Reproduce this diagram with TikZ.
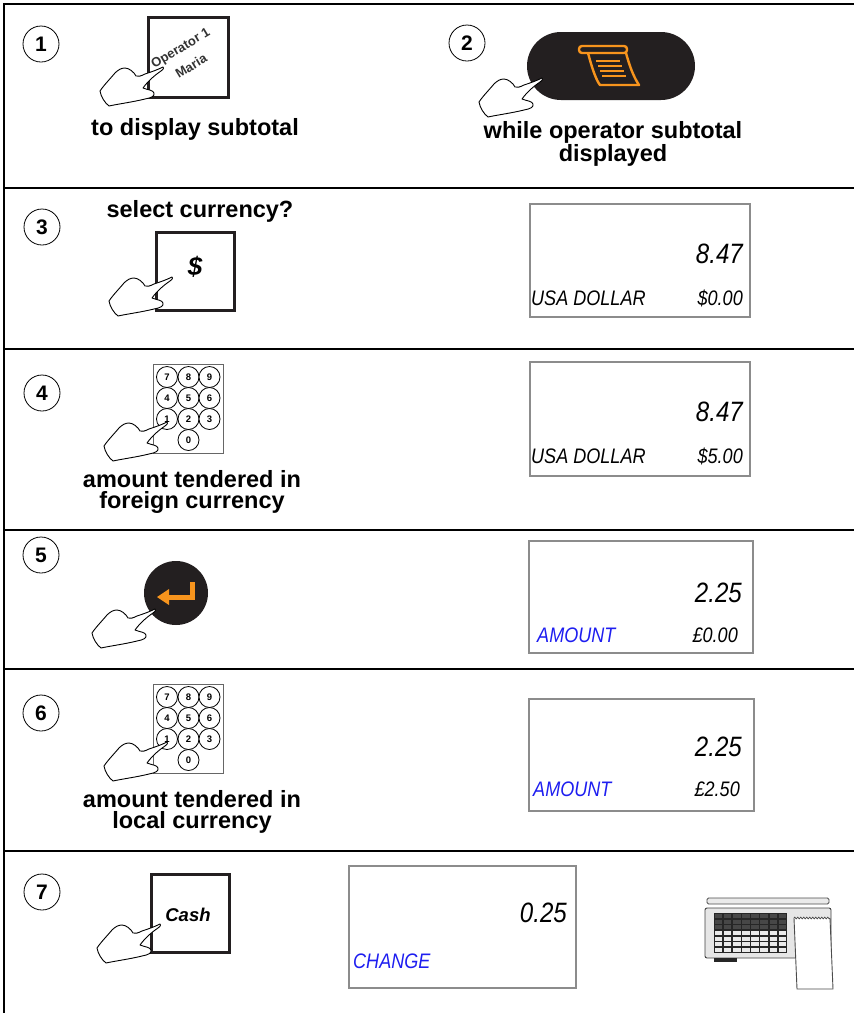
\documentclass[tikz,border=0pt]{standalone}
\usepackage{fontspec}
\setmainfont{Liberation Sans}
\newfontfamily\lcdfont[FakeStretch=0.86]{Liberation Sans}
\usetikzlibrary{decorations.pathmorphing}

\definecolor{keyblack}{HTML}{231F20}
\definecolor{keyorange}{HTML}{F7941D}
\definecolor{lcdblue}{HTML}{1E1EF0}
\definecolor{lcdframe}{HTML}{8C8C8C}
\definecolor{scaledark}{HTML}{262626}
\definecolor{scalekey}{HTML}{474747}
\definecolor{scalelight}{HTML}{EAEAEA}
\definecolor{scalebody}{HTML}{E6E6E6}

\tikzset{
  rowline/.style={line width=2pt, black},
  stepnum/.style={circle, draw, line width=0.8pt, minimum size=36pt, inner sep=0pt,
    font=\bfseries\fontsize{21}{21}\selectfont},
  steptext/.style={align=center, inner sep=0pt,
    font=\bfseries\fontsize{23.5}{22}\selectfont},
  keysq/.style={draw=keyblack, line width=3pt, fill=white, minimum size=#1, inner sep=0pt},
  keysq/.default=80pt,
  lcdbox/.style={draw=lcdframe, line width=1.5pt, anchor=north west, inner sep=0pt},
  lcdval/.style={inner sep=0pt, anchor=base east, font=\lcdfont\itshape\fontsize{28}{28}\selectfont},
  lcdtxt/.style={inner sep=0pt, font=\lcdfont\itshape\fontsize{21}{21}\selectfont},
  keypadbox/.style={draw=black!60, line width=0.8pt, minimum width=70pt, minimum height=89pt, inner sep=0pt},
  padkey/.style={circle, draw, fill=white, line width=0.8pt, minimum size=21pt, inner sep=0pt,
    font=\bfseries\fontsize{9.5}{9.5}\selectfont},
  % pointing hand, fingertip at the pic origin
  hand/.pic={
    \draw[fill=white, line width=0.9pt, line join=round]
      (0,0) .. controls (-6,3) and (-12,5) .. (-18,7)
      .. controls (-22,9) and (-25,10) .. (-27,9)
      .. controls (-29,5) and (-34,1) .. (-38,1)
      .. controls (-42,1) and (-45,3) .. (-48,6)
      .. controls (-53,12) and (-59,18) .. (-63,24)
      .. controls (-62,30) and (-58,36) .. (-54,39)
      .. controls (-45,37) and (-30,35) .. (-18,32)
      .. controls (-12,31) and (-8,29) .. (-9,26)
      .. controls (-10,23) and (-15,23) .. (-20,21)
      .. controls (-15,14) and (-8,8) .. (-2,4)
      .. controls (1,2) and (1,0) .. (0,0) -- cycle;
  },
  % numeric keypad block
  keypad/.pic={
    \node[keypadbox, anchor=north west] (-frame) at (0,0) {};
    \foreach \d/\kx/\ky in {7/14/13, 8/35.5/13, 9/56.5/13, 4/14/34, 5/35.5/34, 6/56.5/34,
                            1/14/55, 2/35.5/55, 3/56.5/55, 0/35.5/76}
      \node[padkey] (-k\d) at (\kx,\ky) {\d};
  }
}

\begin{document}
\begin{tikzpicture}[x=1pt, y=-1pt]
\useasboundingbox (0,0) rectangle (854,1013);

% frame and row separators
\draw[rowline] (4,1013) -- (4,4) -- (854,4);
\foreach \ry in {188,349,530,669,851}
  \draw[rowline] (4,\ry) -- (854,\ry);

% ---------- row 1 ----------
\node[stepnum] (n1) at (41,44) {1};
\node[keysq] (opkey) at (188,57.5) {};
\node[rotate=31, inner sep=0pt, text=black!80,
      font=\bfseries\fontsize{13}{13}\selectfont] (optexta) at (181,49) {Operator 1};
\node[rotate=31, inner sep=0pt, text=black!80,
      font=\bfseries\fontsize{13}{13}\selectfont] (optextb) at (191,66) {Maria};
\pic at (163,67) {hand};
\node[steptext, anchor=base] (t1) at (195,135) {to display subtotal};

\node[stepnum] (n2) at (467,43) {2};
\node[fill=keyblack, rounded corners=34pt, minimum width=168pt, minimum height=68pt, inner sep=0pt]
  (subkey) at (611,66) {};
\draw[keyorange, line width=2.4pt, rounded corners=3pt] (579,46) rectangle (627,53);
\draw[keyorange, line width=2.4pt, line join=round]
  (588,53) .. controls (592,68) and (596,80) .. (600,85) -- (639,85)
  .. controls (633,76) and (629,64) .. (626,53);
\foreach \ly/\lx in {61/596,66/598,71/600,76/602}
  \draw[keyorange, line width=2.2pt] (\lx,\ly) -- ++(24,0);
\pic at (542,78) {hand};
\node[steptext, anchor=base] (t2a) at (613,138) {while operator subtotal};
\node[steptext, anchor=base] (t2b) at (613,161) {displayed};

% ---------- row 2 ----------
\node[stepnum] (n3) at (42,227) {3};
\node[steptext, anchor=base] (t3) at (200,217) {select currency?};
\node[keysq=78pt] (curkey) at (195.5,271.5) {};
\node[inner sep=0pt, font=\bfseries\itshape\fontsize{26}{26}\selectfont] (curtext) at (195,267) {\$};
\pic at (172,277) {hand};
\node[lcdbox, minimum width=220pt, minimum height=113pt] (d1) at (529,203) {};
\node[lcdval] (d1v) at (743,263) {8.47};
\node[lcdtxt, anchor=base west] (d1l) at (531,305) {USA DOLLAR};
\node[lcdtxt, anchor=base east] (d1r) at (743,305) {\$0.00};

% ---------- row 3 ----------
\node[stepnum] (n4) at (42,393) {4};
\pic (kp4) at (153,364) {keypad};
\pic at (167,422) {hand};
\node[steptext, anchor=base] (t4a) at (192,487) {amount tendered in};
\node[steptext, anchor=base] (t4b) at (192,508) {foreign currency};
\node[lcdbox, minimum width=220pt, minimum height=114pt] (d2) at (529,361) {};
\node[lcdval] (d2v) at (743,421) {8.47};
\node[lcdtxt, anchor=base west] (d2l) at (531,463) {USA DOLLAR};
\node[lcdtxt, anchor=base east] (d2r) at (743,463) {\$5.00};

% ---------- row 4 ----------
\node[stepnum] (n5) at (41,555) {5};
\node[circle, fill=keyblack, minimum size=64pt, inner sep=0pt] (enterkey) at (176,593) {};
\draw[keyorange, line width=5pt] (192.5,582) -- (192.5,597) -- (167,597);
\fill[keyorange] (157,597) -- (169,589) -- (169,605) -- cycle;
\pic at (155,609) {hand};
\node[lcdbox, minimum width=224pt, minimum height=112pt] (d3) at (528,540) {};
\node[lcdval] (d3v) at (742,602) {2.25};
\node[lcdtxt, anchor=base west, text=lcdblue] (d3l) at (537,642) {AMOUNT};
\node[lcdtxt, anchor=base east] (d3r) at (738,642) {£0.00};

% ---------- row 5 ----------
\node[stepnum] (n6) at (41,713) {6};
\pic (kp6) at (153,684) {keypad};
\pic at (167,742) {hand};
\node[steptext, anchor=base] (t6a) at (192,807) {amount tendered in};
\node[steptext, anchor=base] (t6b) at (192,828) {local currency};
\node[lcdbox, minimum width=225pt, minimum height=112pt] (d4) at (528,698) {};
\node[lcdval] (d4v) at (742,756) {2.25};
\node[lcdtxt, anchor=base west, text=lcdblue] (d4l) at (533,796) {AMOUNT};
\node[lcdtxt, anchor=base east] (d4r) at (740,796) {£2.50};

% ---------- row 6 ----------
\node[stepnum] (n7) at (42,892) {7};
\node[keysq=78pt] (cashkey) at (190,913.5) {};
\node[inner sep=0pt, font=\bfseries\itshape\fontsize{18.5}{18.5}\selectfont] (cashtext) at (188,915) {Cash};
\pic at (160,924) {hand};
\node[lcdbox, minimum width=227pt, minimum height=122pt] (d5) at (348,865) {};
\node[lcdval] (d5v) at (567,922) {0.25};
\node[lcdtxt, anchor=base west, text=lcdblue] (d5l) at (353,968) {CHANGE};

% label printer scale
\draw[black!70, fill=scalelight, line width=0.8pt, rounded corners=1.5pt] (707,898) rectangle (829,904);
\draw[black!75, fill=scalebody, line width=0.9pt, rounded corners=2pt] (705,908) rectangle (831,958);
\fill[scaledark] (714,913) rectangle (787,953);
\foreach \r in {0,1,2}
  \foreach \c in {0,...,7}
    \fill[scalekey] ({714.9+\c*9.1},{913.9+\r*5.7}) rectangle ++(7.4,4.0);
\foreach \r in {3,...,6}
  \foreach \c in {0,...,7}
    \fill[scalelight] ({714.9+\c*9.1},{913.9+\r*5.7}) rectangle ++(7.4,4.0);
\fill[scaledark] (714,958) rectangle (737,962);
\fill[white] (794,918) -- (830,918) -- (833,989) -- (797,989) -- cycle;
\draw[black!70, line width=0.9pt] (794,918) -- (797,989) -- (833,989) -- (830,918);
\draw[black!70, line width=0.7pt, decorate, decoration={zigzag, segment length=3pt, amplitude=0.9pt}]
  (794,918) -- (830,918);
\end{tikzpicture}
\end{document}
